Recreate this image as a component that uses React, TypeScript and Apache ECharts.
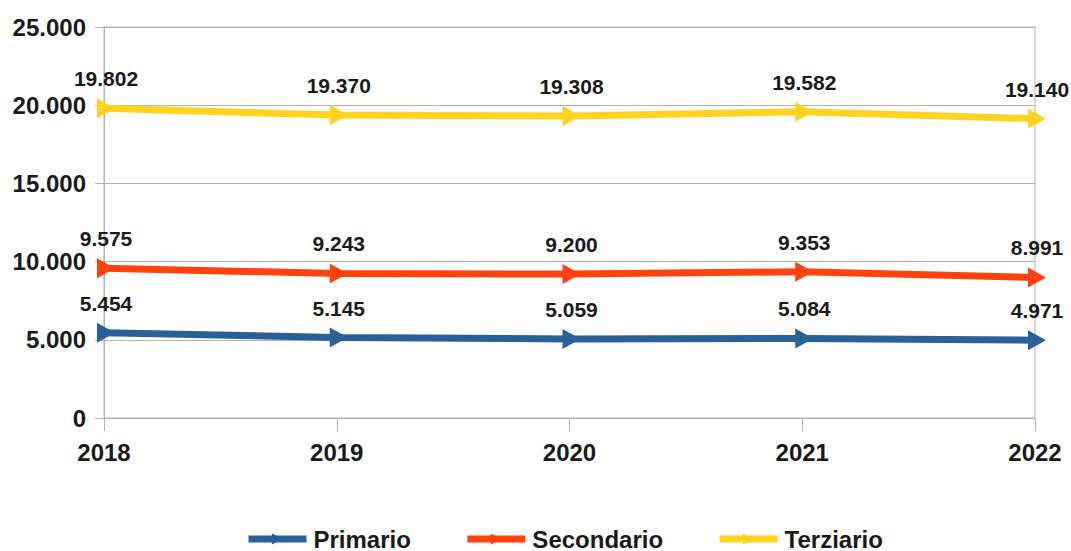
import React, { useEffect, useRef } from "react";
import * as echarts from "echarts";

const years = ["2018", "2019", "2020", "2021", "2022"];
const primario = [5454, 5145, 5059, 5084, 4971];
const secondario = [9575, 9243, 9200, 9353, 8991];
const terziario = [19802, 19370, 19308, 19582, 19140];
const seriesNames = ["Primario", "Secondario", "Terziario"];
const colors = ["#2a6099", "#ff420e", "#ffd320"];

const fmt = (v: number) => {
  const s = Math.round(v).toString();
  return s.replace(/\B(?=(\d{3})+(?!\d))/g, ".");
};

const FONT = "'Liberation Sans', Arial, sans-serif";

export default function App() {
  const ref = useRef<HTMLDivElement>(null);
  useEffect(() => {
    if (!ref.current) return;
    const chart = echarts.init(ref.current, undefined, { renderer: "svg" });
    const dataSets = [primario, secondario, terziario];
    chart.setOption({
      animation: false,
      textStyle: { fontFamily: FONT },
      grid: {
        left: 104,
        right: 36,
        top: 27,
        bottom: 133,
        show: true,
        borderColor: "#b3b3b3",
        borderWidth: 1,
      },
      legend: {
        top: 522,
        left: 240,
        itemWidth: 58,
        itemHeight: 14,
        itemGap: 53,
        data: seriesNames,
        lineStyle: { width: 7 },
        textStyle: {
          fontFamily: FONT,
          fontSize: 24,
          fontWeight: "bold",
          color: "#1a1a1a",
          padding: [0, 0, 0, 2],
        },
      },
      xAxis: {
        type: "category",
        data: years,
        boundaryGap: false,
        axisLine: { lineStyle: { color: "#b3b3b3", width: 1 } },
        axisTick: { show: true, length: 13, lineStyle: { color: "#b3b3b3" } },
        axisLabel: { margin: 22, fontSize: 24, fontWeight: "bold", color: "#1a1a1a", fontFamily: FONT },
        splitLine: { show: false },
      },
      yAxis: {
        type: "value",
        min: 0,
        max: 25000,
        interval: 5000,
        axisLine: { show: true, lineStyle: { color: "#b3b3b3", width: 1 } },
        axisTick: { show: true, length: 9, lineStyle: { color: "#b3b3b3" } },
        axisLabel: {
          margin: 18,
          fontSize: 24,
          fontWeight: "bold",
          color: "#1a1a1a",
          fontFamily: FONT,
          formatter: (v: number) => fmt(v),
        },
        splitLine: { show: true, lineStyle: { color: "#b3b3b3", width: 1 } },
      },
      series: seriesNames.map((name, i) => ({
        name,
        type: "line",
        data: dataSets[i],
        color: colors[i],
        lineStyle: { width: 7, color: colors[i] },
        symbol: "triangle",
        symbolSize: [20, 18],
        symbolRotate: -90,
        symbolOffset: [2, 0],
        showAllSymbol: true,
        itemStyle: { color: colors[i] },
        label: {
          show: true,
          position: "top",
          distance: 9,
          fontSize: 21,
          fontWeight: "bold",
          color: "#1a1a1a",
          fontFamily: FONT,
          formatter: (p: any) => fmt(p.value),
        },
      })),
    });
    return () => chart.dispose();
  }, []);
  return (
    <div
      ref={ref}
      style={{ position: "fixed", left: 0, top: 0, width: 1071, height: 551, background: "#fff" }}
    />
  );
}
